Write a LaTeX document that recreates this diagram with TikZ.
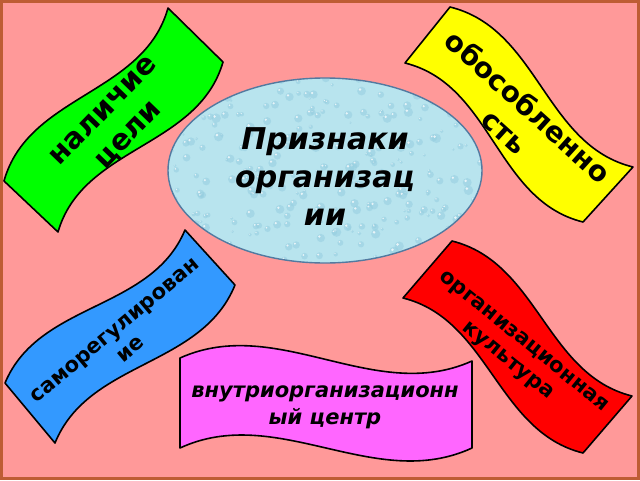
\documentclass[tikz,border=0pt]{standalone}
\usepackage{fontspec}
\setmainfont{DejaVu Sans}[BoldFont={DejaVu Sans Bold},ItalicFont={DejaVu Sans Oblique},BoldItalicFont={DejaVu Sans Bold Oblique}]
\usetikzlibrary{calc}
\definecolor{bgpink}{RGB}{255,153,153}
\definecolor{framebrown}{RGB}{190,92,52}
\definecolor{bgreen}{RGB}{0,255,0}
\definecolor{byellow}{RGB}{255,255,0}
\definecolor{bblue}{RGB}{51,153,255}
\definecolor{bred}{RGB}{255,0,0}
\definecolor{bmagenta}{RGB}{255,102,255}
\definecolor{waterbase}{RGB}{184,228,238}
\definecolor{waterdrop}{RGB}{150,206,224}
\definecolor{waterrim}{RGB}{82,122,160}
\tikzset{
  banner/.style={draw=black, line width=1.6pt, line join=round},
  bannertext/.style={font=\bfseries, align=center, inner sep=0pt},
  centertext/.style={font=\bfseries\itshape\fontsize{30}{38}\selectfont, align=center, inner sep=0pt},
  drop/.style={fill=waterdrop, opacity=0.55},
  shine/.style={fill=white, opacity=0.75}
}
% #1 colour, #2 TL, #3 TR, #4 BR, #5 BL, #6 wave offset
\newcommand\wavebanner[6]{%
  \path[banner, fill=#1] (#2)
    .. controls ($(#2)!1/3!(#3)!#6!90:(#3)$) and ($(#2)!2/3!(#3)!#6!-90:(#3)$) .. (#3)
    -- (#4)
    .. controls ($(#5)!2/3!(#4)!#6!-90:(#4)$) and ($(#5)!1/3!(#4)!#6!90:(#4)$) .. (#5)
    -- cycle;}
\begin{document}
\begin{tikzpicture}[x=1pt,y=-1pt]
\useasboundingbox (0,0) rectangle (640,480);
\fill[bgpink] (0,0) rectangle (640,480);
\draw[framebrown, line width=2.6pt] (1.3,1.3) rectangle (638.7,478.7);

% central ellipse with droplet texture
\begin{scope}
  \clip (325,170.5) ellipse [x radius=157, y radius=92.5];
  \fill[waterbase] (325,170.5) ellipse [x radius=157, y radius=92.5];
  \pgfmathsetseed{7}
  \foreach \k in {1,...,320}{
    \pgfmathsetmacro\xx{325+160*rand}
    \pgfmathsetmacro\yy{170+95*rand}
    \pgfmathsetmacro\rr{1.2+3.6*rnd}
    \fill[drop] (\xx,\yy) circle [radius=\rr];
    \fill[shine] (\xx-0.35*\rr,\yy-0.35*\rr) circle [radius=0.3*\rr];
  }
\end{scope}
\draw[waterrim, line width=1.4pt] (325,170.5) ellipse [x radius=157, y radius=92.5];
\node[centertext] (title) at (325,177) {Признаки\\организац\\ии};

% green banner
\coordinate (g1) at (4,181);   \coordinate (g2) at (168,8);
\coordinate (g3) at (223,62);  \coordinate (g4) at (58,232);
\wavebanner{bgreen}{g1}{g2}{g3}{g4}{42pt}
\node[bannertext, font=\bfseries\fontsize{29}{35}\selectfont, rotate=46] (goal) at (117,124) {наличие\\цели};

% yellow banner
\coordinate (y1) at (450,7);   \coordinate (y2) at (633,167);
\coordinate (y3) at (583,222); \coordinate (y4) at (405,63);
\wavebanner{byellow}{y1}{y2}{y3}{y4}{42pt}
\node[bannertext, font=\bfseries\fontsize{28}{34}\selectfont, rotate=-42] (separate) at (517,119) {обособленно\\сть};

% blue banner
\coordinate (b1) at (5,383);   \coordinate (b2) at (185,230);
\coordinate (b3) at (235,285); \coordinate (b4) at (55,443);
\wavebanner{bblue}{b1}{b2}{b3}{b4}{40pt}
\node[bannertext, font=\bfseries\fontsize{21}{25}\selectfont, rotate=40] (selfreg) at (123,340) {саморегулирован\\ие};

% red banner
\coordinate (r1) at (452,241); \coordinate (r2) at (632,396);
\coordinate (r3) at (583,453); \coordinate (r4) at (403,298);
\wavebanner{bred}{r1}{r2}{r3}{r4}{40pt}
\node[bannertext, font=\bfseries\fontsize{21}{25}\selectfont, rotate=-39] (culture) at (515,352) {организационная\\культура};

% magenta banner
\coordinate (m1) at (180,358); \coordinate (m2) at (472,361);
\coordinate (m3) at (472,448); \coordinate (m4) at (180,448);
\wavebanner{bmagenta}{m1}{m2}{m3}{m4}{45pt}
\node[bannertext, font=\bfseries\itshape\fontsize{21}{27}\selectfont] (centre) at (325,407) {внутриорганизационн\\ый центр};
\end{tikzpicture}
\end{document}
